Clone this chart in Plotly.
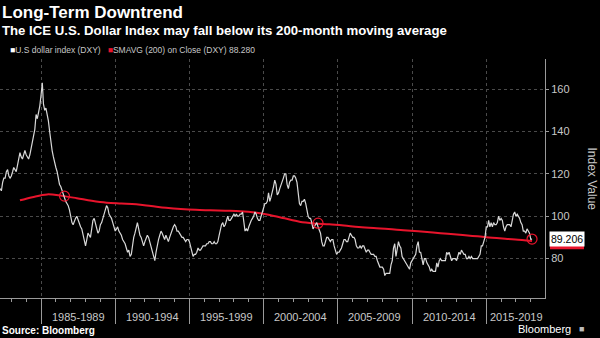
import pandas as pd
import plotly.graph_objects as go

# Monthly ICE U.S. Dollar Index (DXY) levels, Apr 1982 - Feb 2018
dxy_start = "1982-04-01"
dxy_values = [
    # 1982 (Apr-Dec)
    113, 112, 116, 118, 118, 121, 122, 119, 118,
    # 1983
    119, 121, 123, 122, 121, 124, 127, 130, 128, 127, 129, 131,
    # 1984
    129, 128, 127, 129, 132, 136, 138, 141, 148, 146, 149, 152,
    # 1985
    157, 163, 153, 150, 151, 148, 145, 140, 134, 131, 128, 125,
    # 1986
    123, 121, 117, 115, 114, 112, 110, 108, 107, 106, 105, 103,
    # 1987
    99, 97, 96, 98, 99, 100, 98, 96, 95, 94, 91, 88,
    # 1988
    86, 89, 92, 91, 90, 94, 98, 99, 97, 94, 92, 93,
    # 1989
    96, 97, 99, 100, 103, 105, 104, 101, 100, 99, 97, 95,
    # 1990
    93, 94, 95, 93, 92, 91, 89, 88, 87, 85, 83, 84,
    # 1991
    81, 82, 87, 90, 92, 95, 97, 94, 91, 90, 88, 86,
    # 1992
    88, 90, 91, 90, 88, 86, 84, 82, 79, 83, 87, 89,
    # 1993
    91, 93, 92, 90, 89, 91, 89, 88, 90, 92, 94, 95,
    # 1994
    96, 95, 93, 93, 92, 91, 90, 90, 89, 88, 89, 89,
    # 1995
    88, 86, 83, 81, 82, 82, 83, 85, 84, 84, 85, 86,
    # 1996
    86, 86, 87, 87, 88, 88, 87, 87, 88, 87, 87, 88,
    # 1997
    91, 94, 96, 97, 95, 96, 98, 100, 98, 98, 99, 100,
    # 1998
    101, 100, 101, 100, 100, 101, 101, 102, 98, 93, 94, 93,
    # 1999
    95, 97, 98, 99, 100, 102, 101, 99, 98, 98, 100, 101,
    # 2000
    104, 106, 106, 107, 111, 107, 109, 111, 114, 117, 115, 110,
    # 2001
    111, 113, 115, 117, 118, 120, 120, 115, 113, 116, 117, 117,
    # 2002
    119, 119, 118, 116, 111, 106, 105, 107, 107, 108, 106, 103,
    # 2003
    100, 99, 99, 97, 94, 95, 96, 97, 95, 93, 92, 88,
    # 2004
    86, 86, 88, 90, 90, 89, 88, 89, 89, 86, 84, 82,
    # 2005
    83, 83, 84, 85, 87, 89, 89, 88, 88, 90, 92, 91,
    # 2006
    90, 90, 89, 86, 85, 85, 86, 85, 86, 86, 84, 83,
    # 2007
    84, 84, 83, 82, 82, 82, 81, 81, 79, 77, 76, 76,
    # 2008
    76, 75, 72, 73, 73, 73, 73, 77, 79, 85, 87, 81,
    # 2009
    85, 88, 86, 85, 81, 80, 79, 78, 77, 76, 75, 78,
    # 2010
    79, 80, 81, 82, 86, 88, 83, 83, 80, 77, 80, 80,
    # 2011
    78, 77, 76, 74, 75, 74, 74, 74, 78, 76, 79, 80,
    # 2012
    79, 79, 79, 79, 83, 82, 83, 81, 79, 80, 80, 80,
    # 2013
    79, 82, 83, 82, 84, 83, 82, 82, 80, 80, 81, 80,
    # 2014
    81, 80, 80, 80, 80, 80, 81, 82, 86, 86, 88, 90,
    # 2015
    95, 95, 98, 95, 97, 95, 97, 96, 96, 97, 100, 98,
    # 2016
    99, 98, 95, 93, 95, 96, 96, 96, 95, 98, 101, 102,
    # 2017
    100, 101, 100, 99, 97, 96, 93, 93, 92, 94, 93, 92,
    # 2018 (Jan-Feb)
    89.1, 89.206,
]

# 200-month simple moving average of the index
sma_dates = [
    "1983-08-01", "1984-06-01", "1985-06-01", "1986-06-01", "1987-06-01",
    "1988-06-01", "1989-06-01", "1990-06-01", "1991-06-01", "1992-06-01",
    "1993-06-01", "1994-06-01", "1995-06-01", "1996-06-01", "1997-06-01",
    "1998-06-01", "1999-06-01", "2000-06-01", "2001-06-01", "2002-06-01",
    "2003-06-01", "2004-06-01", "2005-06-01", "2006-06-01", "2007-06-01",
    "2008-06-01", "2009-06-01", "2010-06-01", "2011-06-01", "2012-06-01",
    "2013-06-01", "2014-06-01", "2015-06-01", "2016-06-01", "2017-06-01",
    "2018-02-01",
]
sma_values = [
    107.5, 109.0, 110.3, 109.6, 108.5,
    107.3, 106.4, 106.0, 105.6, 104.8,
    104.0, 103.4, 103.0, 102.8, 102.6,
    102.4, 101.8, 100.6, 99.0, 97.4,
    96.6, 96.2, 95.6, 94.9, 94.4,
    94.0, 93.4, 92.9, 92.3, 91.7,
    91.1, 90.5, 89.8, 89.3, 88.8,
    88.28,
]

# Points where the index crosses its moving average
cross_dates = ["1986-08-01", "2003-09-01"]
cross_values = [109.5, 96.7]

# Period labels along the time axis
period_labels = ["1985-1989", "1990-1994", "1995-1999", "2000-2004",
                 "2005-2009", "2010-2014", "2015-2019"]
period_centers = ["1987-07-02", "1992-07-02", "1997-07-02", "2002-07-02",
                  "2007-07-02", "2012-07-02", "2017-01-05"]
period_bounds = ["1985-01-01", "1990-01-01", "1995-01-01", "2000-01-01",
                 "2005-01-01", "2010-01-01", "2015-01-01"]

last_value = dxy_values[-1]
sma_last = sma_values[-1]

dxy_dates = pd.date_range(dxy_start, periods=len(dxy_values), freq="MS")

RED = "#e8142c"
GREY_TXT = "#c8c8c8"
AXIS = "#9a9a9a"
GRID = "#4a4a4a"
FONT = "Liberation Sans"

fig = go.Figure()

fig.add_trace(go.Scatter(
    x=sma_dates, y=sma_values, mode="lines",
    line=dict(color=RED, width=2, shape="spline"),
    hoverinfo="skip", showlegend=False,
))
fig.add_trace(go.Scatter(
    x=dxy_dates, y=dxy_values, mode="lines",
    line=dict(color="#d9d9d9", width=1.2),
    showlegend=False,
))
fig.add_trace(go.Scatter(
    x=cross_dates + [dxy_dates[-1]], y=cross_values + [last_value],
    mode="markers",
    marker=dict(symbol="circle-open", size=10, color=RED, line=dict(width=1.2)),
    hoverinfo="skip", showlegend=False,
))

# x axis: five-year separators, yearly minor ticks
fig.update_xaxes(
    type="date",
    range=["1982-03-28", "2018-12-17"],
    tickvals=period_bounds,
    showticklabels=False,
    ticks="outside", ticklen=25, tickcolor=AXIS, tickwidth=1,
    showgrid=True, gridcolor=GRID, griddash="dot", gridwidth=1,
    showline=True, linecolor=AXIS, linewidth=1,
    minor=dict(dtick="M12", tick0="1983-01-01", ticks="outside",
               ticklen=3, tickcolor=AXIS, showgrid=False),
    zeroline=False,
)

fig.update_yaxes(
    side="right",
    range=[61.4, 174.2],
    tickvals=[80, 100, 120, 140, 160],
    ticks="outside", ticklen=3, tickcolor=AXIS,
    tickfont=dict(family=FONT, size=11, color=GREY_TXT),
    showgrid=True, gridcolor=GRID, griddash="dot", gridwidth=1,
    showline=True, linecolor=AXIS, linewidth=1,
    zeroline=False,
)

annotations = []
for lab, cx in zip(period_labels, period_centers):
    annotations.append(dict(
        x=cx, y=-0.08, xref="x", yref="paper", text=lab, showarrow=False,
        xanchor="center", yanchor="middle",
        font=dict(family=FONT, size=11, color=GREY_TXT),
    ))

annotations += [
    dict(x=0, y=1.195, xref="paper", yref="paper",
         text="<b>Long-Term Downtrend</b>", showarrow=False,
         xanchor="left", yanchor="middle",
         font=dict(family=FONT, size=17, color="white")),
    dict(x=0, y=1.119, xref="paper", yref="paper",
         text="<b>The ICE U.S. Dollar Index may fall below its 200-month moving average</b>",
         showarrow=False, xanchor="left", yanchor="middle",
         font=dict(family=FONT, size=13.2, color="white")),
    dict(x=0, y=1.038, xref="paper", yref="paper", xshift=8,
         text=("<span style='color:white'>■</span>U.S dollar index (DXY)"
               "&nbsp;&nbsp;&nbsp;<span style='color:%s'>■</span>"
               "SMAVG (200) on Close (DXY) %.3f") % (RED, sma_last),
         showarrow=False, xanchor="left", yanchor="middle",
         font=dict(family=FONT, size=8.5, color=GREY_TXT)),
    dict(x=0, y=-0.138, xref="paper", yref="paper",
         text="<b>Source: Bloomberg</b>", showarrow=False,
         xanchor="left", yanchor="middle",
         font=dict(family=FONT, size=10, color="white")),
    dict(x=1, y=-0.128, xref="paper", yref="paper", xshift=28,
         text="Bloomberg", showarrow=False,
         xanchor="right", yanchor="middle",
         font=dict(family=FONT, size=11, color="white")),
    dict(x=1, y=-0.128, xref="paper", yref="paper", xshift=32,
         text="■", showarrow=False,
         xanchor="left", yanchor="middle",
         font=dict(family=FONT, size=9, color="#bbbbbb")),
    dict(x=1, y=0.5, xref="paper", yref="paper", xshift=47,
         text="Index Value", textangle=90, showarrow=False,
         xanchor="center", yanchor="middle",
         font=dict(family=FONT, size=12, color=GREY_TXT)),
    dict(x=1, y=last_value, xref="paper", yref="y", xshift=4,
         text="%.3f" % last_value, showarrow=False,
         xanchor="left", yanchor="middle", bgcolor="white", borderpad=1,
         font=dict(family=FONT, size=10.5, color="black")),
]

# moving-average value tag, mostly hidden behind the index tag
shapes = [dict(
    type="rect", xref="paper", yref="y",
    x0=1 + 5 / 545, x1=1 + 39 / 545, y0=sma_last - 3.9, y1=sma_last - 0.5,
    fillcolor=RED, line=dict(width=0), layer="above",
)]

fig.update_layout(
    width=600, height=338,
    margin=dict(l=0, r=55, t=59, b=40),
    paper_bgcolor="black", plot_bgcolor="black",
    annotations=annotations, shapes=shapes,
    showlegend=False,
)

fig.write_html("out.html")
